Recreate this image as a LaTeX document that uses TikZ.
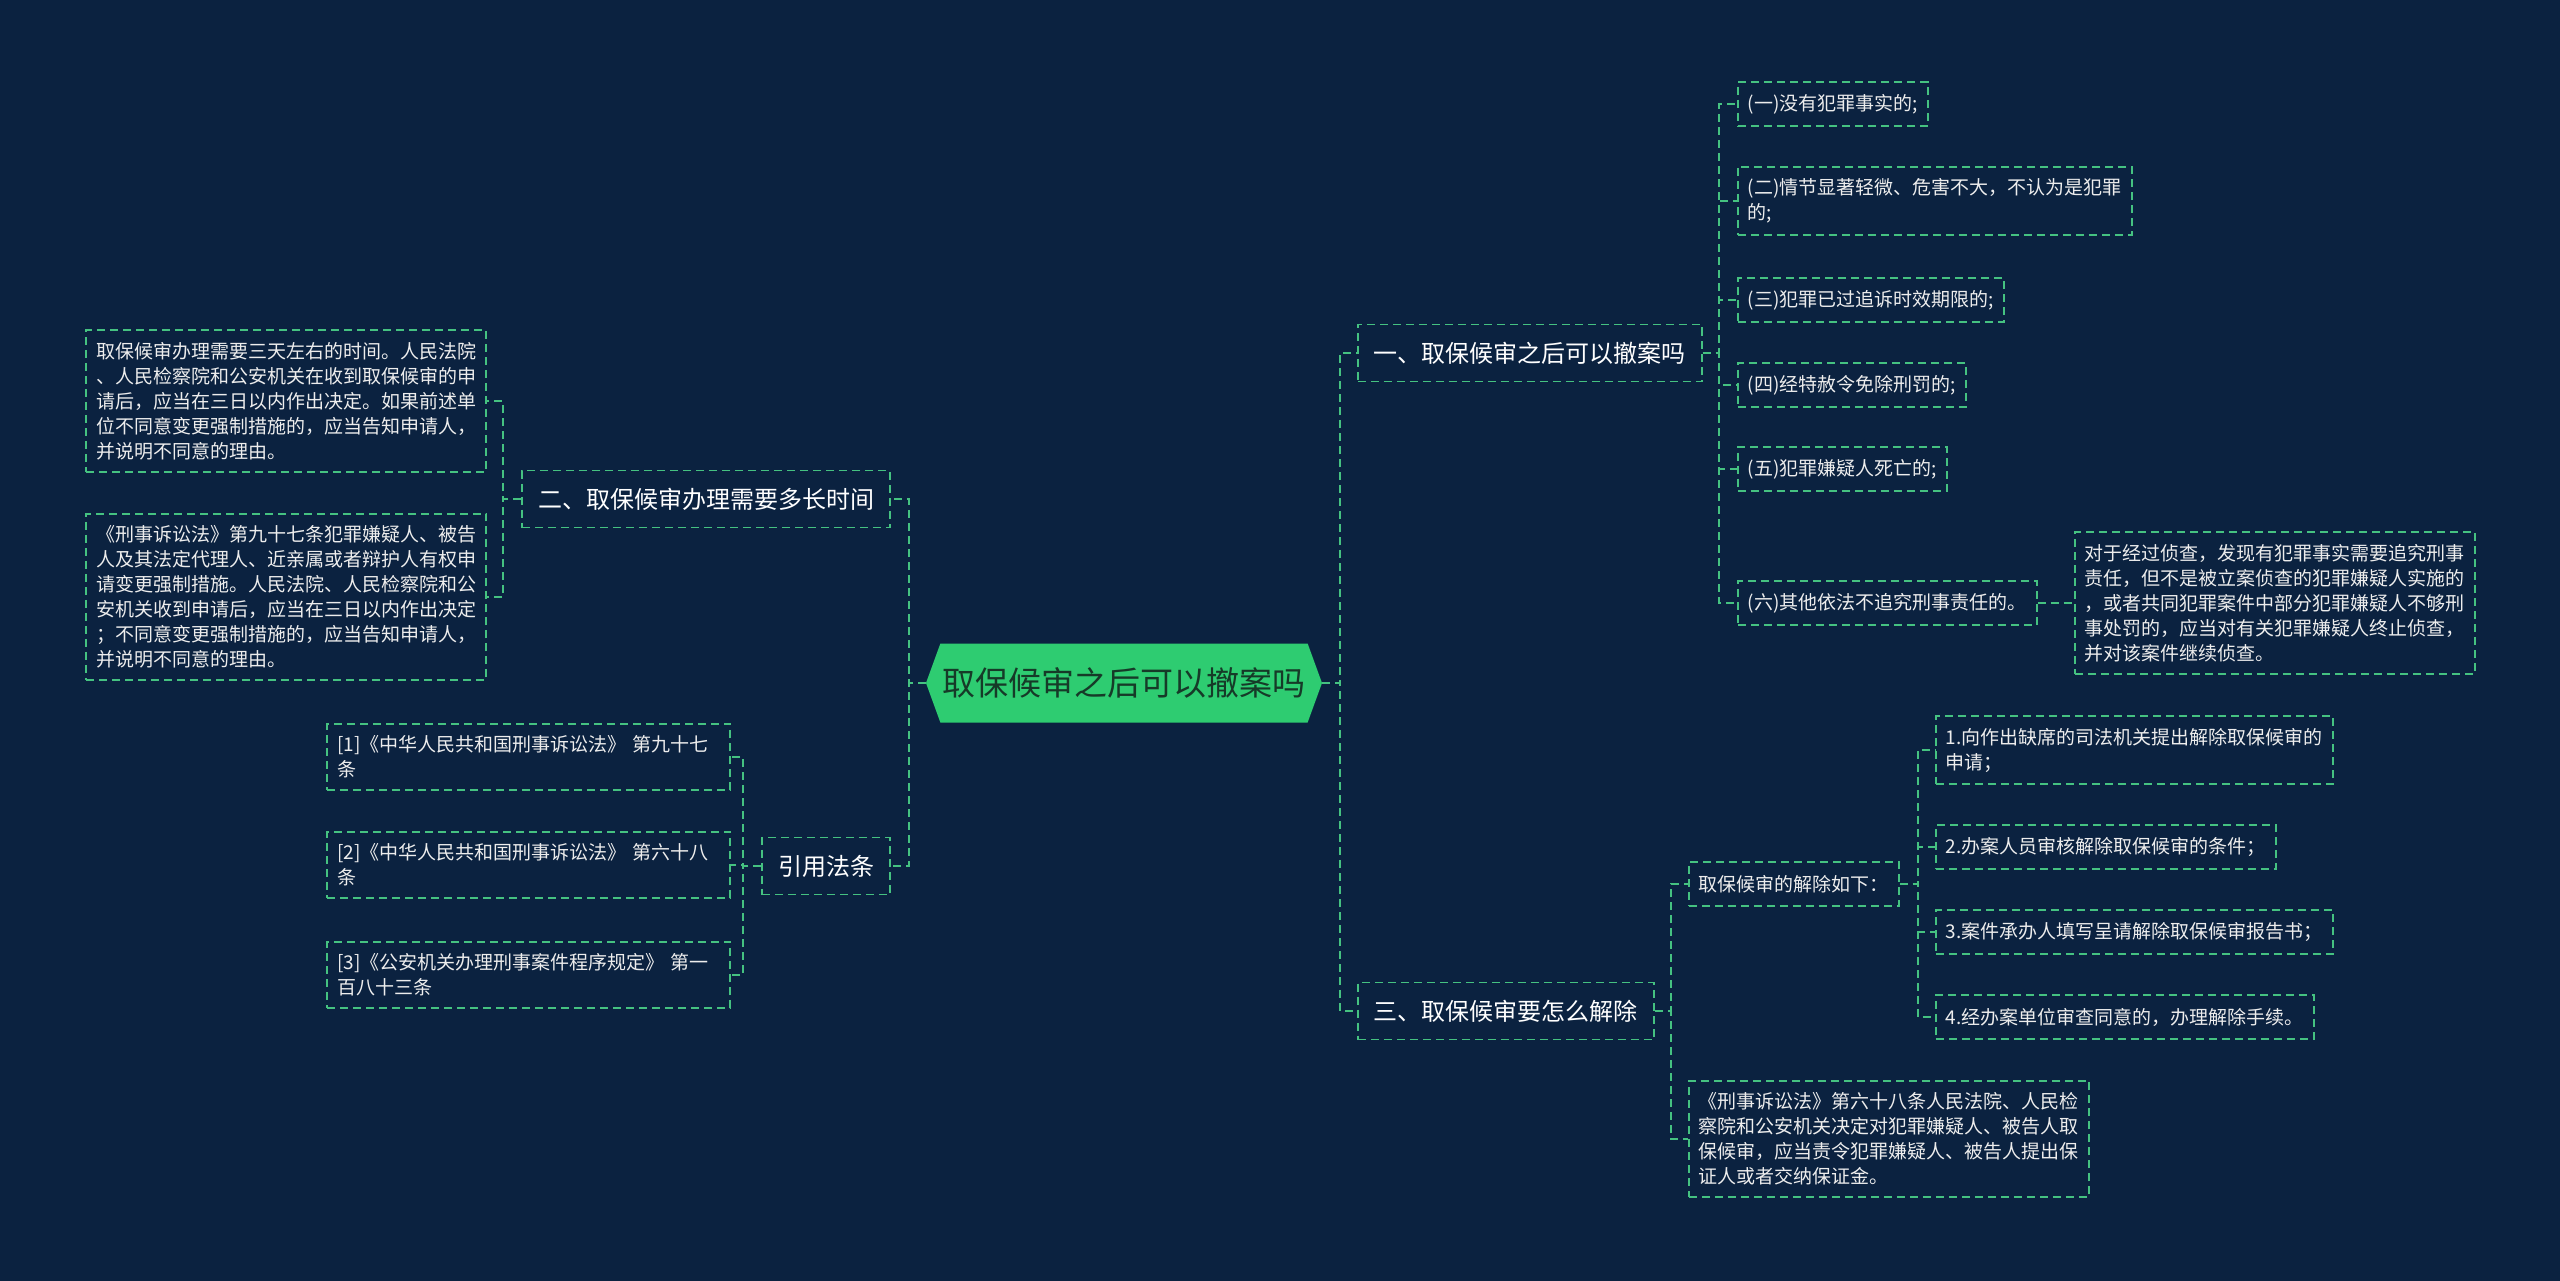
\documentclass[tikz,border=0pt]{standalone}
\usepackage{fontspec}
\setmainfont{Noto Sans CJK SC}
\usepackage{tikz}
\usetikzlibrary{shapes.symbols}

\definecolor{bgnavy}{HTML}{0B2240}
\definecolor{dashgreen}{HTML}{45C281}
\definecolor{hexgreen}{HTML}{2ECC71}
\definecolor{hextext}{HTML}{163A28}

\begin{document}
\begin{tikzpicture}[x=1pt, y=-1pt,
    link/.style={draw=dashgreen, line width=1.8pt, dash pattern=on 8pt off 5pt},
    topic/.style={link, text=white, font=\fontsize{24}{30}\selectfont, inner xsep=16pt, inner ysep=6pt, minimum height=57pt},
    leaf/.style={link, text=white!93!black, font=\fontsize{19}{25}\selectfont, align=left, inner xsep=10pt, inner ysep=12pt, minimum height=44pt}]
    \fill[bgnavy] (0,0) rectangle (2560,1281);
    \useasboundingbox (0,0) rectangle (2560,1281);

    \node[signal, signal to=west and east, signal pointer angle=140, fill=hexgreen, minimum width=396pt, minimum height=79pt, inner sep=0pt, text=hextext, font=\fontsize{33}{38}\selectfont] (root) at (1124,683) {取保候审之后可以撤案吗};

    % right side
    \node[topic, anchor=west] (one) at (1357,353) {一、取保候审之后可以撤案吗};
    \node[topic, anchor=west] (three) at (1357,1011) {三、取保候审要怎么解除};

    \node[leaf, anchor=west] (one-a) at (1737,104) {(一)没有犯罪事实的;};
    \node[leaf, anchor=west] (one-b) at (1737,201) {(二)情节显著轻微、危害不大，不认为是犯罪\\的;};
    \node[leaf, anchor=west] (one-c) at (1737,300) {(三)犯罪已过追诉时效期限的;};
    \node[leaf, anchor=west] (one-d) at (1737,385) {(四)经特赦令免除刑罚的;};
    \node[leaf, anchor=west] (one-e) at (1737,469) {(五)犯罪嫌疑人死亡的;};
    \node[leaf, anchor=west] (one-f) at (1737,603) {(六)其他依法不追究刑事责任的。};
    \node[leaf, anchor=west] (one-f-note) at (2074,603) {对于经过侦查，发现有犯罪事实需要追究刑事\\责任，但不是被立案侦查的犯罪嫌疑人实施的\\，或者共同犯罪案件中部分犯罪嫌疑人不够刑\\事处罚的，应当对有关犯罪嫌疑人终止侦查，\\并对该案件继续侦查。};

    \node[leaf, anchor=west] (three-a) at (1688,884) {取保候审的解除如下：};
    \node[leaf, anchor=west] (three-b) at (1688,1139) {《刑事诉讼法》第六十八条人民法院、人民检\\察院和公安机关决定对犯罪嫌疑人、被告人取\\保候审，应当责令犯罪嫌疑人、被告人提出保\\证人或者交纳保证金。};
    \node[leaf, anchor=west] (step-1) at (1935,750) {1.向作出缺席的司法机关提出解除取保候审的\\申请；};
    \node[leaf, anchor=west] (step-2) at (1935,847) {2.办案人员审核解除取保候审的条件；};
    \node[leaf, anchor=west] (step-3) at (1935,932) {3.案件承办人填写呈请解除取保候审报告书；};
    \node[leaf, anchor=west] (step-4) at (1935,1017) {4.经办案单位审查同意的，办理解除手续。};

    % left side
    \node[topic, anchor=east] (two) at (891,499) {二、取保候审办理需要多长时间};
    \node[topic, anchor=east] (cite) at (891,866) {引用法条};

    \node[leaf, anchor=east] (two-a) at (487,401) {取保候审办理需要三天左右的时间。人民法院\\、人民检察院和公安机关在收到取保候审的申\\请后，应当在三日以内作出决定。如果前述单\\位不同意变更强制措施的，应当告知申请人，\\并说明不同意的理由。};
    \node[leaf, anchor=east] (two-b) at (487,597) {《刑事诉讼法》第九十七条犯罪嫌疑人、被告\\人及其法定代理人、近亲属或者辩护人有权申\\请变更强制措施。人民法院、人民检察院和公\\安机关收到申请后，应当在三日以内作出决定\\；不同意变更强制措施的，应当告知申请人，\\并说明不同意的理由。};

    \node[leaf, text width=383pt, anchor=east] (cite-1) at (731,757) {[1]《中华人民共和国刑事诉讼法》 第九十七\\条};
    \node[leaf, text width=383pt, anchor=east] (cite-2) at (731,865) {[2]《中华人民共和国刑事诉讼法》 第六十八\\条};
    \node[leaf, text width=383pt, anchor=east] (cite-3) at (731,975) {[3]《公安机关办理刑事案件程序规定》 第一\\百八十三条};

    % connectors
    \foreach \kid in {one, three}
        \draw[link] (root.east) -- ++(18,0) |- (\kid.west);
    \foreach \kid in {two, cite}
        \draw[link] (root.west) -- ++(-17,0) |- (\kid.east);
    \foreach \kid in {one-a, one-b, one-c, one-d, one-e, one-f}
        \draw[link] (one.east) -- ++(16,0) |- (\kid.west);
    \draw[link] (one-f.east) -- (one-f-note.west);
    \foreach \kid in {three-a, three-b}
        \draw[link] (three.east) -- ++(16,0) |- (\kid.west);
    \foreach \kid in {step-1, step-2, step-3, step-4}
        \draw[link] (three-a.east) -- ++(18,0) |- (\kid.west);
    \foreach \kid in {two-a, two-b}
        \draw[link] (two.west) -- ++(-18,0) |- (\kid.east);
    \foreach \kid in {cite-1, cite-2, cite-3}
        \draw[link] (cite.west) -- ++(-18,0) |- (\kid.east);
\end{tikzpicture}
\end{document}
